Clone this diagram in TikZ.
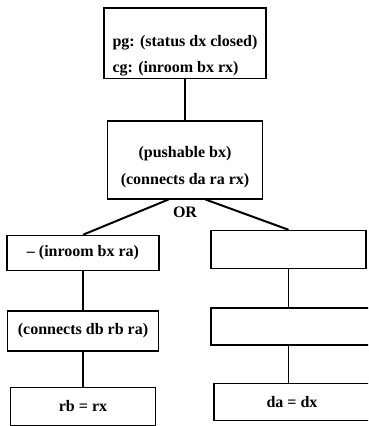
\documentclass[tikz,border=0pt]{standalone}
\usepackage{fontspec}
\setmainfont{Liberation Serif}
\usetikzlibrary{positioning}

\begin{document}
\begin{tikzpicture}[x=1pt, y=1pt,
    box/.style={draw, line width=1.5pt, inner xsep=3pt, inner ysep=0pt,
                minimum width=150pt, align=center,
                font=\bfseries\fontsize{16}{19.2}\selectfont},
    link/.style={line width=1.4pt},
    fork/.style={line width=2pt}
  ]
  \useasboundingbox (0,0) rectangle (368,-426);
  \clip (0,0) rectangle (368,-426);
  \node[box, minimum width=162pt, align=left, anchor=north] (pg) at (185,-7)
      {\rule{0pt}{39pt}pg: (status dx closed)\\[6.8pt]
       cg: (inroom bx rx)\rule[-5.5pt]{0pt}{5.5pt}};
  \node[box, minimum width=155pt] (push) [below=41pt of pg]
      {\rule{0pt}{36.5pt}(pushable bx)\\[7.8pt]
       (connects da ra rx)\rule[-14.5pt]{0pt}{14.5pt}};
  \node[font=\bfseries\fontsize{16}{19.2}\selectfont] (alt) at (185,-212) {OR};
  % left branch
  \node[box, minimum width=152pt, minimum height=35pt] (l1) at (83,-253) {-- (inroom bx ra)};
  \node[box, minimum width=151pt, minimum height=40pt] (l2) [below=39pt of l1] {(connects db rb ra)};
  \node[box, minimum width=145pt, minimum height=38pt] (l3) [below=35pt of l2] {rb = rx};
  % right branch
  \node[box, minimum width=155pt, minimum height=38pt] (r1) at (288.5,-249.5) {};
  \node[box, minimum width=170pt, minimum height=37pt] (r2)
      [below=38pt of r1.south west, anchor=north west] {};
  \node[box, minimum width=156pt, minimum height=37pt] (r3)
      [below=37pt of r2.south west, anchor=north west, xshift=3pt] {da = dx};
  \draw[link] (pg) -- (push);
  \draw[fork] ([xshift=-16.5pt]push.south) -- (l1.north);
  \draw[fork] ([xshift=20.5pt]push.south) -- (r1.north);
  \draw[link] (l1) -- (l2);
  \draw[link] (l2) -- (l3);
  \draw[link] (r1.south) -- (r1.south |- r2.north);
  \draw[link] (r1.south |- r2.south) -- (r1.south |- r3.north);
\end{tikzpicture}
\end{document}
